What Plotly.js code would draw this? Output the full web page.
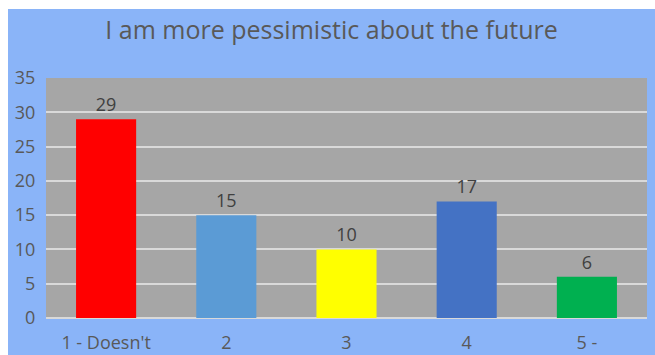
<!DOCTYPE html>
<html>
<head>
<meta charset="utf-8">
<script src="https://cdn.plot.ly/plotly-3.0.1.min.js"></script>
<style>
html,body{margin:0;padding:0;background:#fff;width:655px;height:355px;overflow:hidden;}
#chart{position:absolute;left:8px;top:9px;width:647px;height:346px;}
</style>
</head>
<body>
<div id="chart"></div>
<script>
const categories = ["1 - Doesn't", "2", "3", "4", "5 -"];
const values = [29, 15, 10, 17, 6];
const barColors = ["#FF0000", "#5B9BD5", "#FFFF00", "#4472C4", "#00B050"];
const yTicks = [0, 5, 10, 15, 20, 25, 30, 35];

const font = "Open Sans, Liberation Sans, sans-serif";

Plotly.newPlot('chart', [{
  type: 'bar',
  x: categories,
  y: values,
  marker: {color: barColors},
  text: values.map(String),
  textposition: 'outside',
  textfont: {family: font, size: 18, color: '#404040'},
  cliponaxis: false,
  hoverinfo: 'none'
}], {
  width: 647, height: 346,
  paper_bgcolor: '#8AB4F8',
  plot_bgcolor: '#A6A6A6',
  margin: {l: 38, r: 8, t: 69, b: 37},
  bargap: 0.5,
  showlegend: false,
  title: {text: 'I am more pessimistic about the future', font: {family: font, size: 25, color: '#595959'}, x: 0.5, xanchor: 'center', y: 1 - 21/346, yanchor: 'middle'},
  xaxis: {
    type: 'category',
    tickfont: {family: font, size: 18, color: '#595959'},
    ticks: 'outside', ticklen: 8, tickcolor: 'rgba(0,0,0,0)',
    showgrid: false, zeroline: false, showline: false
  },
  yaxis: {
    range: [0, 35],
    tickvals: yTicks,
    tickfont: {family: font, size: 18, color: '#595959'},
    ticks: 'outside', ticklen: 6, tickcolor: 'rgba(0,0,0,0)',
    showgrid: true, gridcolor: '#D9D9D9', gridwidth: 2,
    zeroline: true, zerolinecolor: '#D9D9D9', zerolinewidth: 2,
    showline: false
  }
}, {displayModeBar: false, staticPlot: true});
</script>
</body>
</html>
